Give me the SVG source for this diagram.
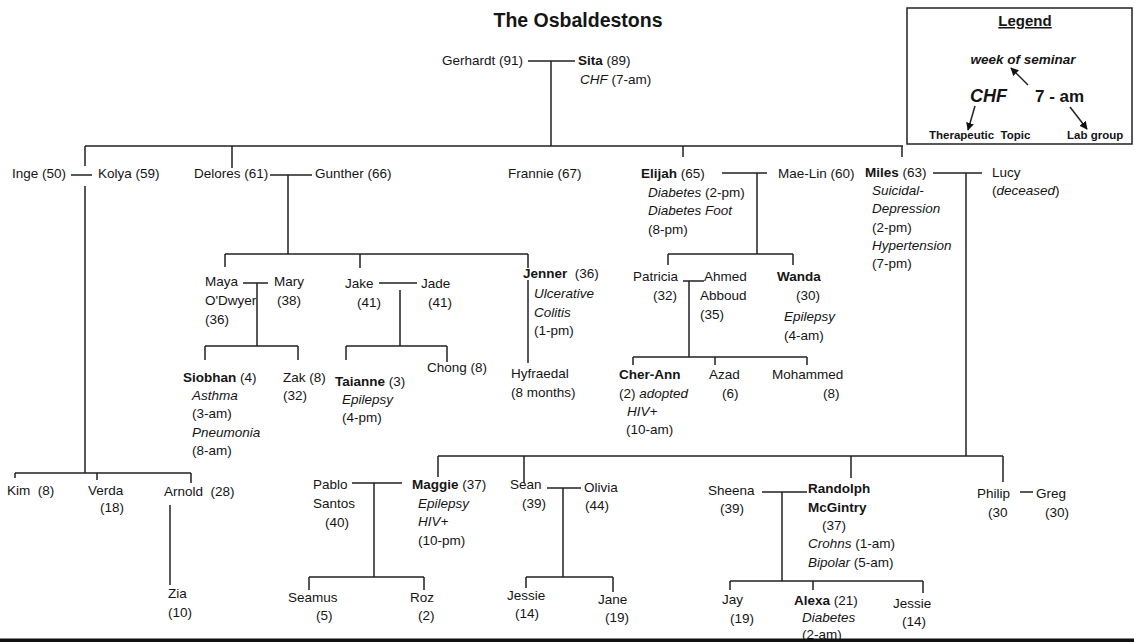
<svg xmlns="http://www.w3.org/2000/svg" width="1134" height="642" viewBox="0 0 1134 642">
<style>
text{font-family:"Liberation Sans",Arial,Helvetica,sans-serif;font-size:13.5px;fill:#151515}
.b{font-weight:bold}
.i{font-style:italic}
.title{font-size:19.5px;font-weight:bold}
.lt{font-size:15px;font-weight:bold;text-decoration:underline}
.lw{font-size:13.5px;font-weight:bold;font-style:italic}
.lc{font-size:18px;font-weight:bold;font-style:italic}
.la{font-size:17px;font-weight:bold}
.ls{font-size:11.5px;font-weight:bold}
.ln{fill:none;stroke:#222;stroke-width:1.5}
</style>
<defs>
<marker id="ah" viewBox="0 0 10 10" refX="9" refY="5" markerWidth="8" markerHeight="8" orient="auto" markerUnits="userSpaceOnUse">
<path d="M0,0L10,5L0,10z" fill="#111"/>
</marker>
</defs>
<rect width="1134" height="642" fill="#fff"/>
<text class="title" x="578" y="27" text-anchor="middle">The Osbaldestons</text>

<g id="connectors" class="ln">
<path d="M528,61H575M551,61V146M85,146H903M85,146V166M85,186V473M232,146V168M683,146V157M902,146V157"/>
<path d="M71,175H92"/>
<path d="M270,175H312M288,175V254M225,254H528M225,254V267M360,254V268M528,254V268"/>
<path d="M243,283H268M257,283V346M205,346H298M205,346V360M298,346V360"/>
<path d="M379,283H417M400,290V346M346,346H447M346,346V360M447,346V362"/>
<path d="M528,280V363"/>
<path d="M722,173H767M757,173V254M668,254H793M668,254V265M793,254V265"/>
<path d="M683,281H704M689,281V357M633,357H807M633,357V365M715,357V365M807,357V365"/>
<path d="M933,173H982M966,173V456M438,456H1003M438,456V477M524,456V483M851,456V478M1003,456V482"/>
<path d="M15,473H191M15,473V478M97,473V480M191,473V483"/>
<path d="M170,505V585"/>
<path d="M352,483H402M374,483V577M309,577H424M309,577V590M424,577V590"/>
<path d="M547,488H581M563,488V577M526,577H613M526,577V588M613,577V592"/>
<path d="M762,492H807M782,492V581M730,581H923M730,581V590M813,581V590M923,581V593"/>
<path d="M1020,492H1033"/>
</g>

<g id="legend">
<rect x="907" y="8" width="225" height="136" class="ln"/>
<text class="lt" x="1025" y="26" text-anchor="middle">Legend</text>
<text class="lw" x="1023" y="64" text-anchor="middle">week of seminar</text>
<text class="lc" x="970" y="102">CHF</text>
<text class="la" x="1035" y="102">7 - am</text>
<text class="ls" x="929" y="139" xml:space="preserve">Therapeutic  Topic</text>
<text class="ls" x="1067" y="139">Lab group</text>
<g class="ln" marker-end="url(#ah)">
<path d="M1028,85L1011,68"/>
<path d="M975,106L968,130"/>
<path d="M1070,107L1087,129"/>
</g>
</g>

<g id="gerhardt"><text x="442" y="65">Gerhardt (91)</text></g>
<g id="sita"><text x="578" y="65"><tspan class="b">Sita</tspan> (89)</text><text x="580" y="84"><tspan class="i">CHF</tspan> (7-am)</text></g>

<g id="inge"><text x="12" y="178">Inge (50)</text></g>
<g id="kolya"><text x="98" y="178">Kolya (59)</text></g>
<g id="delores"><text x="194" y="178">Delores (61)</text></g>
<g id="gunther"><text x="315" y="178">Gunther (66)</text></g>
<g id="frannie"><text x="508" y="178">Frannie (67)</text></g>
<g id="elijah"><text x="641" y="178"><tspan class="b">Elijah</tspan> (65)</text>
<text x="648" y="197"><tspan class="i">Diabetes</tspan> (2-pm)</text>
<text x="648" y="215" class="i">Diabetes Foot</text>
<text x="648" y="234">(8-pm)</text></g>
<g id="maelin"><text x="778" y="178">Mae-Lin (60)</text></g>
<g id="miles"><text x="865" y="177"><tspan class="b">Miles</tspan> (63)</text>
<text x="872" y="195" class="i">Suicidal-</text>
<text x="872" y="213" class="i">Depression</text>
<text x="872" y="232">(2-pm)</text>
<text x="872" y="250" class="i">Hypertension</text>
<text x="872" y="268">(7-pm)</text></g>
<g id="lucy"><text x="992" y="177">Lucy</text><text x="992" y="195">(<tspan class="i">deceased</tspan>)</text></g>

<g id="maya"><text x="205" y="286">Maya</text><text x="205" y="305">O'Dwyer</text><text x="205" y="324">(36)</text></g>
<g id="mary"><text x="274" y="286">Mary</text><text x="277" y="305">(38)</text></g>
<g id="jake"><text x="345" y="288">Jake</text><text x="357" y="307">(41)</text></g>
<g id="jade"><text x="421" y="288">Jade</text><text x="428" y="307">(41)</text></g>
<g id="jenner"><text x="523" y="278" xml:space="preserve"><tspan class="b">Jenner</tspan>  (36)</text>
<text x="534" y="298" class="i">Ulcerative</text>
<text x="534" y="317" class="i">Colitis</text>
<text x="534" y="335">(1-pm)</text></g>
<g id="hyfraedal"><text x="511" y="378">Hyfraedal</text><text x="511" y="397">(8 months)</text></g>
<g id="patricia"><text x="633" y="281">Patricia</text><text x="653" y="300">(32)</text></g>
<g id="ahmed"><text x="704" y="281">Ahmed</text><text x="700" y="300">Abboud</text><text x="700" y="319">(35)</text></g>
<g id="wanda"><text x="777" y="281" class="b">Wanda</text><text x="796" y="300">(30)</text><text x="784" y="321" class="i">Epilepsy</text><text x="784" y="340">(4-am)</text></g>

<g id="siobhan"><text x="183" y="382"><tspan class="b">Siobhan</tspan> (4)</text>
<text x="192" y="400" class="i">Asthma</text>
<text x="192" y="418">(3-am)</text>
<text x="192" y="437" class="i">Pneumonia</text>
<text x="192" y="455">(8-am)</text></g>
<g id="zak"><text x="283" y="382">Zak (8)</text><text x="283" y="400">(32)</text></g>
<g id="taianne"><text x="335" y="386"><tspan class="b">Taianne</tspan> (3)</text>
<text x="342" y="404" class="i">Epilepsy</text>
<text x="342" y="422">(4-pm)</text></g>
<g id="chong"><text x="427" y="372">Chong (8)</text></g>
<g id="cherann"><text x="619" y="379" class="b">Cher-Ann</text>
<text x="619" y="398">(2) <tspan class="i">adopted</tspan></text>
<text x="627" y="416" class="i">HIV+</text>
<text x="626" y="434">(10-am)</text></g>
<g id="azad"><text x="709" y="379">Azad</text><text x="722" y="398">(6)</text></g>
<g id="mohammed"><text x="772" y="379">Mohammed</text><text x="823" y="398">(8)</text></g>

<g id="kim"><text x="7" y="495" xml:space="preserve">Kim  (8)</text></g>
<g id="verda"><text x="88" y="495">Verda</text><text x="100" y="512">(18)</text></g>
<g id="arnold"><text x="164" y="496" xml:space="preserve">Arnold  (28)</text></g>
<g id="zia"><text x="168" y="598">Zia</text><text x="168" y="617">(10)</text></g>

<g id="pablo"><text x="313" y="489">Pablo</text><text x="313" y="508">Santos</text><text x="325" y="527">(40)</text></g>
<g id="maggie"><text x="412" y="489"><tspan class="b">Maggie</tspan> (37)</text>
<text x="418" y="508" class="i">Epilepsy</text>
<text x="418" y="526" class="i">HIV+</text>
<text x="418" y="545">(10-pm)</text></g>
<g id="seamus"><text x="288" y="602">Seamus</text><text x="316" y="620">(5)</text></g>
<g id="roz"><text x="410" y="602">Roz</text><text x="418" y="620">(2)</text></g>
<g id="sean"><text x="510" y="489">Sean</text><text x="522" y="508">(39)</text></g>
<g id="olivia"><text x="584" y="492">Olivia</text><text x="585" y="510">(44)</text></g>
<g id="jessie1"><text x="507" y="600">Jessie</text><text x="515" y="618">(14)</text></g>
<g id="jane"><text x="598" y="604">Jane</text><text x="605" y="622">(19)</text></g>
<g id="sheena"><text x="708" y="495">Sheena</text><text x="720" y="513">(39)</text></g>
<g id="randolph"><text x="808" y="493" class="b">Randolph</text>
<text x="808" y="512" class="b">McGintry</text>
<text x="822" y="530">(37)</text>
<text x="808" y="548"><tspan class="i">Crohns</tspan> (1-am)</text>
<text x="808" y="567"><tspan class="i">Bipolar</tspan> (5-am)</text></g>
<g id="jay"><text x="722" y="604">Jay</text><text x="730" y="623">(19)</text></g>
<g id="alexa"><text x="794" y="605"><tspan class="b">Alexa</tspan> (21)</text>
<text x="802" y="622" class="i">Diabetes</text>
<text x="802" y="639">(2-am)</text></g>
<g id="jessie2"><text x="893" y="608">Jessie</text><text x="902" y="626">(14)</text></g>
<g id="philip"><text x="977" y="498">Philip</text><text x="988" y="517">(30</text></g>
<g id="greg"><text x="1036" y="498">Greg</text><text x="1045" y="517">(30)</text></g>

<rect x="0" y="638.5" width="1134" height="3.5" fill="#111"/>
</svg>
